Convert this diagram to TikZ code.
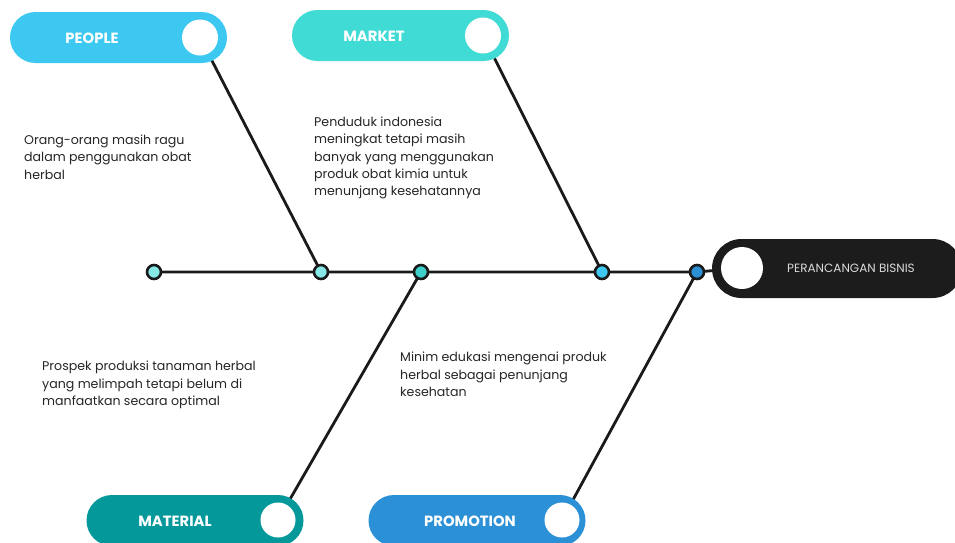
\documentclass[tikz,border=0pt]{standalone}
\usepackage{fontspec}
\setmainfont{Poppins}
\usepackage{tikz}
\usetikzlibrary{positioning,backgrounds}

\definecolor{peoplec}{HTML}{3CC8F0}
\definecolor{marketc}{HTML}{41DBD6}
\definecolor{materialc}{HTML}{05989B}
\definecolor{promoc}{HTML}{2C90D7}
\definecolor{headc}{HTML}{1C1C1C}
\definecolor{linec}{HTML}{1A1A1A}
\definecolor{notec}{HTML}{262626}
\definecolor{palec}{HTML}{86E9E5}

\begin{document}
\begin{tikzpicture}[x=1pt, y=-1pt,
    pill/.style={rectangle, rounded corners=25.5pt, minimum width=217pt, minimum height=51pt, inner sep=0pt},
    knob/.style={circle, fill=white, minimum size=36pt, inner sep=0pt},
    tag/.style={text=white, inner sep=0pt, font=\fontsize{14.8}{17}\selectfont\bfseries},
    dot/.style={circle, draw=linec, line width=2.6pt, minimum size=14pt, inner sep=0pt},
    bone/.style={draw=linec, line width=2.8pt},
    note/.style={anchor=north west, align=left, inner sep=0pt, text=notec, font=\fontsize{12.6}{17.4}\selectfont}
]
    \clip (0,0) rectangle (955,542);

    % heads
    \node[pill, fill=peoplec] (people) at (118.5,37.5) {};
    \node[knob] (peopleknob) at (200,37.5) {};
    \node[tag] at (92,38.5) {PEOPLE};

    \node[pill, fill=marketc] (market) at (400.5,35.5) {};
    \node[knob] (marketknob) at (483,35.5) {};
    \node[tag] at (374,36.5) {MARKET};

    \node[pill, fill=materialc] (material) at (195,520.5) {};
    \node[knob, minimum size=35pt] (materialknob) at (278,520) {};
    \node[tag] at (175,521) {MATERIAL};

    \node[pill, fill=promoc] (promotion) at (477,520.5) {};
    \node[knob, minimum size=35pt] (promoknob) at (562,520) {};
    \node[tag] at (470,521) {PROMOTION};

    \node[pill, fill=headc, rounded corners=29.5pt, minimum width=250pt, minimum height=59pt] (bisnis) at (837,268.5) {};
    \node[knob, minimum size=42pt] (bisnisknob) at (742,268) {};
    \node[text=white!85!black, inner sep=0pt, font=\fontsize{12}{14}\selectfont] at (851,268) {PERANCANGAN BISNIS};

    % spine
    \node[dot, fill=palec] (d1) at (154,272) {};
    \node[dot, fill=palec] (d2) at (321,272) {};
    \node[dot, fill=marketc!95!black] (d3) at (421,272) {};
    \node[dot, fill=peoplec] (d4) at (602,272) {};
    \node[dot, fill=promoc] (d5) at (697,272) {};

    \begin{pgfonlayer}{background}
        \fill[white] (0,0) rectangle (955,542);
        \draw[bone] (d1.center) -- (d5.center) -- (bisnisknob.center);
        \draw[bone] (peopleknob.center) -- (d2.center);
        \draw[bone] (marketknob.center) -- (d4.center);
        \draw[bone] (d3.center) -- (materialknob.center);
        \draw[bone] (d5.center) -- (promoknob.center);
    \end{pgfonlayer}

    % notes
    \node[note] (n1) at (24,134.5) {Orang-orang masih ragu\\dalam penggunakan obat\\herbal};
    \node[note] (n2) at (314,116.5) {Penduduk indonesia\\meningkat tetapi masih\\banyak yang menggunakan\\produk obat kimia untuk\\menunjang kesehatannya};
    \node[note] (n3) at (42,361) {Prospek produksi tanaman herbal\\yang melimpah tetapi belum di\\manfaatkan secara optimal};
    \node[note] (n4) at (400,352) {Minim edukasi mengenai produk\\herbal sebagai penunjang\\kesehatan};
\end{tikzpicture}
\end{document}
